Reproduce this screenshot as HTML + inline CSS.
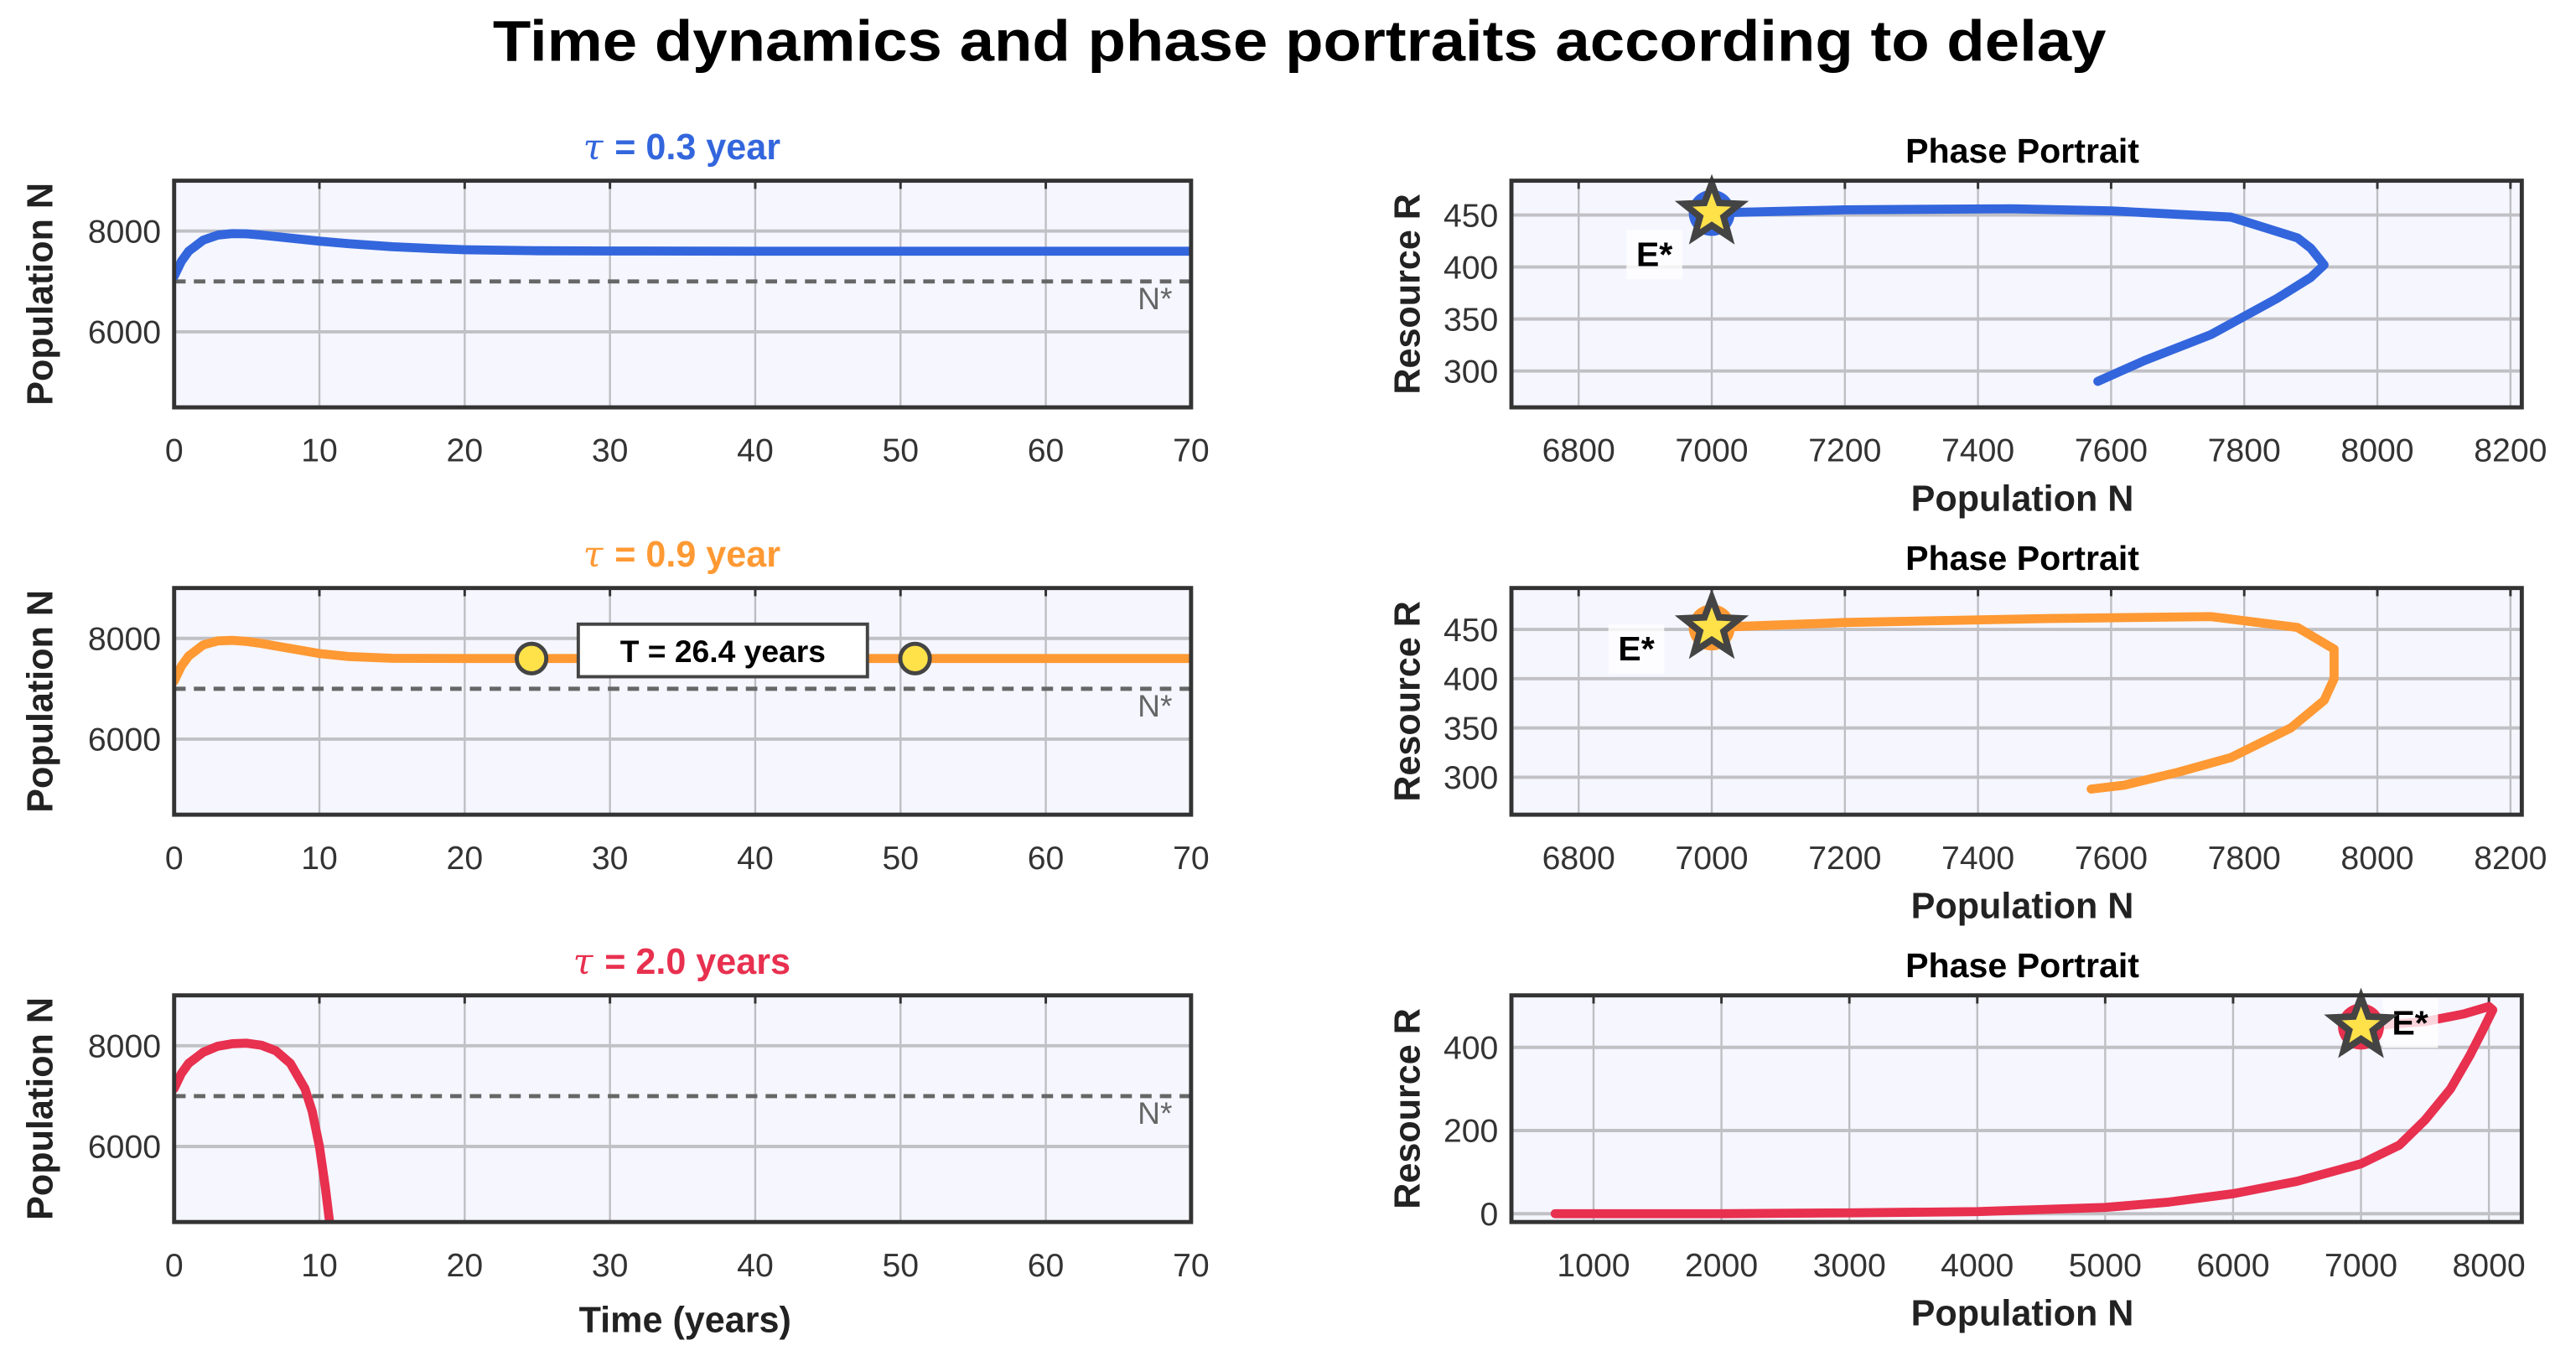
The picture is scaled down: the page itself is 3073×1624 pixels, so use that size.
<!DOCTYPE html>
<html><head><meta charset="utf-8">
<style>
html,body{margin:0;padding:0;background:#fff;}
svg{display:block;font-family:"Liberation Sans",sans-serif;}
</style></head>
<body>
<svg id="fig" width="3073" height="1624" viewBox="0 0 1568 828.6" xmlns="http://www.w3.org/2000/svg">
<text x="791" y="37" text-anchor="middle" font-size="35" font-weight="bold" textLength="982" lengthAdjust="spacingAndGlyphs">Time dynamics and phase portraits according to delay</text>
</svg>
<script>
// ---- data ----
const timeTicks = [0,10,20,30,40,50,60,70];
const popTicks = [6000,8000];
const nStar = 7000;
const t1 = [0,0.5,1,2,3,4,5,6,8,10,12,15,18,20,25,30,40,50,60,70];
const n1 = [7100,7400,7600,7820,7920,7950,7945,7920,7860,7800,7750,7690,7650,7630,7610,7605,7600,7600,7600,7600];
const t2 = [0,0.5,1,2,3,4,5,6,8,10,12,15,20,30,40,50,60,70];
const n2 = [7150,7450,7650,7870,7950,7960,7940,7900,7800,7700,7640,7605,7600,7600,7600,7600,7600,7600];
const periodMarks = [24.6,51.0];
const periodLabel = "T = 26.4 years";
const t3 = [0,0.5,1,2,3,4,5,6,7,8,9,9.5,10,10.4,10.7];
const n3 = [7150,7450,7650,7870,7990,8040,8050,8010,7900,7650,7150,6700,6000,5200,4500];
const phN1 = [7580,7650,7750,7850,7900,7920,7900,7880,7780,7600,7450,7200,7000];
const phR1 = [290,310,335,370,390,402,418,428,448,454,456,455,452];
const phN2 = [7570,7620,7700,7780,7870,7920,7935,7935,7880,7750,7500,7200,7000];
const phR2 = [288,292,305,320,350,378,400,430,452,463,461,457,452];
const phN3 = [700,2000,3000,4000,5000,5500,6000,6500,7000,7300,7500,7700,7850,7950,8030,8000,7800,7500,7000];
const phR3 = [0,0,2,5,15,28,48,78,120,165,225,300,380,440,490,498,480,462,450];
const phX12Ticks = [6800,7000,7200,7400,7600,7800,8000,8200];
const phY12Ticks = [300,350,400,450];
const phX3Ticks = [1000,2000,3000,4000,5000,6000,7000,8000];
const phY3Ticks = [0,200,400];
const eqN = 7000, eqR12 = 452, eqR3 = 450;

const NS = "http://www.w3.org/2000/svg";
const svg = document.getElementById('fig');
function mk(tag, attrs, parent){
  const e = document.createElementNS(NS, tag);
  for (const k in attrs) e.setAttribute(k, attrs[k]);
  (parent||svg).appendChild(e);
  return e;
}
function txt(str, attrs){ const e = mk('text', attrs); e.textContent = str; return e; }
function scale(d0,d1,r0,r1){ return v => r0 + (v-d0)/(d1-d0)*(r1-r0); }

function axes(x0,x1,y0,y1,xd,yd,xt,yt,name){
  const sx = scale(xd[0],xd[1],x0,x1), sy = scale(yd[0],yd[1],y1,y0);
  const bg = mk('rect',{x:x0,y:y0,width:x1-x0,height:y1-y0,fill:'#f5f6fe'});
  
  
  xt.forEach(v=>{
    const gl = mk('line',{x1:sx(v),x2:sx(v),y1:y0,y2:y1,stroke:'#bdbdc2','stroke-width':1.2});
    
    
    const tk = mk('line',{x1:sx(v),x2:sx(v),y1:y0,y2:y0+5,stroke:'#333','stroke-width':1.5});
    
    
    const tl = txt(String(v),{x:sx(v),y:y1+33,'text-anchor':'middle','font-size':20,fill:'#333'});
    
    
  });
  yt.forEach(v=>{
    const gl = mk('line',{x1:x0,x2:x1,y1:sy(v),y2:sy(v),stroke:'#c0c0c5','stroke-width':2});
    
    
    const tl = txt(String(v),{x:x0-8,y:sy(v)+7,'text-anchor':'end','font-size':20,fill:'#333'});
    
    
  });
  return {sx,sy};
}
function frame(x0,x1,y0,y1,name){
  const f = mk('rect',{x:x0,y:y0,width:x1-x0,height:y1-y0,fill:'none',stroke:'#333','stroke-width':2.5});
  
  
}
function line(xs,ys,sx,sy,color,w,name){
  const d = xs.map((x,i)=>(i?'L':'M')+sx(x).toFixed(2)+','+sy(ys[i]).toFixed(2)).join(' ');
  const p = mk('path',{d,fill:'none',stroke:color,'stroke-width':w,'stroke-linejoin':'round','stroke-linecap':'round'});
  
  
  return p;
}
function star(cx,cy,r,circColor,name){
  const c = mk('circle',{cx,cy,r:14,fill:circColor});
  
  
  let pts=[];
  for(let i=0;i<10;i++){const a=-Math.PI/2+i*Math.PI/5;const rr=i%2?r*0.42:r;pts.push((cx+rr*Math.cos(a)).toFixed(2)+','+(cy+rr*Math.sin(a)).toFixed(2));}
  const s = mk('polygon',{points:pts.join(' '),fill:'#ffe14a',stroke:'#444','stroke-width':4,'stroke-linejoin':'miter'});
  
  
}

// ---- time panels ----
const colors = ['#3366dd','#ff9933','#e8304f'];
const titles = ['= 0.3 year','= 0.9 year','= 2.0 years'];
const tops = [110,358,606];
const series = [[t1,n1],[t2,n2],[t3,n3]];
tops.forEach((y0,i)=>{
  const y1 = y0+138, x0=106, x1=725, nm='time-panel-'+(i+1);
  const {sx,sy} = axes(x0,x1,y0,y1,[0,70],[4500,9000],timeTicks,popTicks,nm);
  const dl = mk('line',{x1:x0,x2:x1,y1:sy(nStar),y2:sy(nStar),stroke:'#666','stroke-width':2.5,'stroke-dasharray':'7,5'});
  
  
  const nl = txt('N*',{x:703,y:sy(nStar)+17,'text-anchor':'middle','font-size':19,fill:'#666'});
  
  
  const clip = mk('clipPath',{id:'c'+i});
  mk('rect',{x:x0,y:y0,width:x1-x0,height:y1-y0},clip);
  const p = line(series[i][0],series[i][1],sx,sy,colors[i],5.5,nm+'-population-line');
  p.setAttribute('clip-path','url(#c'+i+')');
  if(i===1){
    const box = mk('rect',{x:352,y:380,width:176,height:32,fill:'#fff',stroke:'#444','stroke-width':2});
    
    
    const bt = txt(periodLabel,{x:440,y:403,'text-anchor':'middle','font-size':19,'font-weight':'bold'});
    
    
    periodMarks.forEach(t=>{
      const c = mk('circle',{cx:sx(t),cy:sy(7600),r:9,fill:'#ffe14a',stroke:'#444','stroke-width':2.5});
      
      
    });
  }
  frame(x0,x1,y0,y1,nm);
  const tt = txt('',{x:415,y:y0-13,'text-anchor':'middle','font-size':22,'font-weight':'bold',fill:colors[i]});
  
  
  const ts = mk('tspan',{'font-family':'"DejaVu Serif",serif','font-style':'italic','font-weight':'normal'},tt); ts.textContent='τ ';
  const ts2 = mk('tspan',{},tt); ts2.textContent=titles[i];
  const yl = txt('Population N',{x:0,y:0,transform:'translate(32,'+(y0+69)+') rotate(-90)','text-anchor':'middle','font-size':22,'font-weight':'bold',fill:'#222'});
  
  
});
const xl = txt('Time (years)',{x:417,y:811,'text-anchor':'middle','font-size':22,'font-weight':'bold',fill:'#222'});



// ---- phase panels ----
const phCfg = [
  {y0:110, xd:[6699,8217], yd:[265,483], xt:phX12Ticks, yt:phY12Ticks, N:phN1, R:phR1, er:eqR12, lab:[1007,160]},
  {y0:358, xd:[6699,8217], yd:[262,492], xt:phX12Ticks, yt:phY12Ticks, N:phN2, R:phR2, er:eqR12, lab:[996,400]},
  {y0:606, xd:[358,8257], yd:[-20,525], xt:phX3Ticks, yt:phY3Ticks, N:phN3, R:phR3, er:eqR3, lab:[1467,628]}
];
phCfg.forEach((c,i)=>{
  const x0=920,x1=1535,y1=c.y0+138,nm='phase-panel-'+(i+1);
  const {sx,sy} = axes(x0,x1,c.y0,y1,c.xd,c.yd,c.xt,c.yt,nm);
  line(c.N,c.R,sx,sy,colors[i],5.5,nm+'-trajectory');
  const lb = mk('rect',{x:c.lab[0]-17,y:c.lab[1]-20,width:34,height:30,fill:'#fff','fill-opacity':0.8});
  
  
  const lt = txt('E*',{x:c.lab[0],y:c.lab[1]+2,'text-anchor':'middle','font-size':21,'font-weight':'bold'});
  
  
  star(sx(eqN),sy(c.er),18,colors[i],nm);
  frame(x0,x1,c.y0,y1,nm);
  const tt = txt('Phase Portrait',{x:1231,y:c.y0-11,'text-anchor':'middle','font-size':21,'font-weight':'bold'});
  
  
  const xa = txt('Population N',{x:1231,y:y1+63,'text-anchor':'middle','font-size':22,'font-weight':'bold',fill:'#222'});
  
  
  const ya = txt('Resource R',{x:0,y:0,transform:'translate(864,'+(c.y0+69)+') rotate(-90)','text-anchor':'middle','font-size':22,'font-weight':'bold',fill:'#222'});
  
  
});
</script>
</body></html>
